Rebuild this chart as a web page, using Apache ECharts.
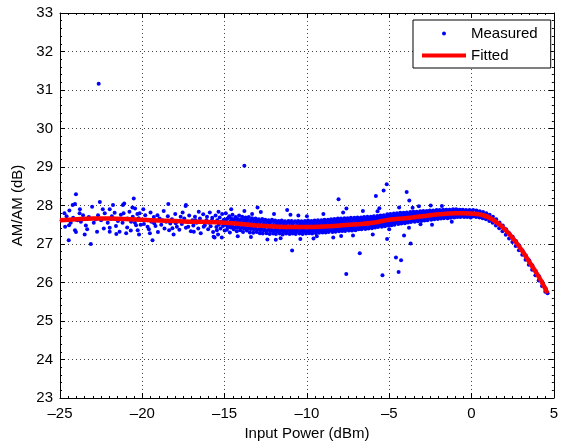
<!DOCTYPE html>
<html>
<head>
<meta charset="utf-8">
<script src="https://cdn.jsdelivr.net/npm/echarts@6/dist/echarts.min.js"></script>
<style>
html,body{margin:0;padding:0;background:#fff;}
#chart{width:561px;height:447px;}
</style>
</head>
<body>
<div id="chart"></div>
<script>
// ---- Data ----
const xTickValues = [-25, -20, -15, -10, -5, 0, 5];
const yTickValues = [23, 24, 25, 26, 27, 28, 29, 30, 31, 32, 33];

// Fitted curve (AM/AM, dB) vs input power (dBm)
const fittedX = [-25, -24, -23, -22, -21, -20, -19, -18, -17, -16, -15, -14, -13, -12, -11, -10, -9, -8, -7, -6, -5, -4, -3, -2, -1, -0.5, 0, 0.35, 0.75, 1.15, 1.5, 1.75, 2.25, 2.75, 3.25, 3.76, 4.26, 4.61];
const fittedY = [27.62, 27.645, 27.66, 27.66, 27.65, 27.63, 27.61, 27.595, 27.58, 27.57, 27.55, 27.52, 27.48, 27.455, 27.44, 27.44, 27.455, 27.48, 27.51, 27.55, 27.63, 27.67, 27.72, 27.77, 27.80, 27.80, 27.79, 27.78, 27.74, 27.67, 27.57, 27.49, 27.28, 27.02, 26.71, 26.37, 26.02, 25.72];

// Measured points: sparse low-power region
const measuredSparse = [
[-24.03,28.29],[-24.73,27.80],[-24.43,27.87],[-24.23,28.01],[-24.09,28.04],[-23.79,27.90],[-23.81,27.80],[-24.45,27.49],[-24.69,27.45],[-24.09,27.36],[-24.03,27.31],[-24.47,27.10],[-23.73,27.58],[-23.13,27.00],[-23.35,27.38],[-23.05,27.97],[-23.43,27.48],[-22.58,28.09],[-22.69,27.75],[-22.83,27.64],[-22.34,27.40],[-22.28,27.80],[-21.98,27.90],[-21.90,27.65],[-21.98,27.42],[-21.98,27.32],[-21.68,27.81],[-21.48,27.60],[-21.38,27.32],[-21.78,28.01],[-21.18,28.01],[-21.10,28.05],[-21.14,27.80],[-20.92,27.43],[-20.78,27.84],[-20.68,27.58],[-20.58,27.71],[-20.52,28.18],[-20.44,27.92],[-20.38,27.49],[-20.28,27.36],[-20.98,27.28],[-21.58,27.26],[-20.16,27.80],[-20.22,27.67],[-19.94,27.90],[-19.82,27.75],[-19.68,27.45],[-19.38,27.10],[-19.54,27.28],[-19.28,27.54],[-19.08,27.75],[-18.78,27.62],[-18.42,28.04],[-18.37,27.36],[-18.17,27.41],[-17.97,27.54],[-17.67,27.71],[-17.37,27.99],[-17.21,27.45],[-16.87,27.32],[-16.77,27.62],[-16.57,27.84],[-16.27,27.45],[-16.07,27.71],[-15.77,27.62],[-15.47,27.36],[-15.37,27.84],[-15.17,27.17],[-15.61,27.17],[-17.35,28.01],[-15.67,27.19],
[-24.9,27.62],[-24.6,27.72],[-24.35,27.55],[-24.2,27.68],[-23.95,27.62],[-23.6,27.75],[-23.5,27.25],[-23.25,27.70],[-22.95,27.55],[-22.75,27.32],[-22.5,27.62],[-22.4,27.90],[-22.1,27.55],[-21.85,27.72],[-21.6,27.47],[-21.3,27.76],[-21.2,27.55],[-20.9,27.66],[-20.7,27.35],[-20.6,27.95],[-20.45,27.55],[-20.3,27.78],[-20.2,27.25],[-20.1,27.50],
[-19.9,27.52],[-19.75,27.63],[-19.6,27.38],[-19.5,27.82],[-19.45,27.58],[-19.3,27.70],[-19.2,27.47],[-19.05,27.31],[-18.95,27.66],[-18.85,27.50],[-18.7,27.86],[-18.65,27.40],[-18.55,27.58],[-18.45,27.72],[-18.3,27.53],[-18.2,27.64],[-18.1,27.25],[-18.0,27.78],[-17.9,27.45],[-17.85,27.60],[-17.75,27.37],[-17.6,27.52],[-17.55,27.82],[-17.45,27.66],[-17.35,27.42],[-17.25,27.57],[-17.15,27.74],[-17.05,27.33],[-16.95,27.62],[-16.9,27.48],[-16.8,27.71],[-16.7,27.55],[-16.6,27.40],[-16.5,27.66],[-16.45,27.28],[-16.35,27.58],[-16.3,27.77],[-16.2,27.49],[-16.1,27.62],[-16.0,27.38],[-15.95,27.55],[-15.9,27.82],[-15.85,27.46],[-15.75,27.68],[-15.7,27.31],[-15.6,27.57],[-15.55,27.74],[-15.5,27.44],[-15.45,27.62],[-15.4,27.25],[-15.35,27.50],[-15.3,27.69],[-15.25,27.40],[-15.2,27.58],[-15.15,27.78],[-15.1,27.47],[-15.05,27.63],[-15.0,27.35]
];

// Measured points: dense band (outer rows)
const measuredBand = [
[-14.93,27.80],[-14.88,27.64],[-14.95,27.50],[-14.86,27.37],
[-14.72,27.72],[-14.66,27.58],[-14.74,27.45],[-14.68,27.30],
[-14.52,27.76],[-14.47,27.62],[-14.55,27.49],[-14.45,27.38],
[-14.33,27.70],[-14.27,27.57],[-14.31,27.44],[-14.26,27.33],
[-14.12,27.74],[-14.07,27.60],[-14.14,27.47],[-14.05,27.36],
[-13.93,27.71],[-13.86,27.57],[-13.91,27.45],[-13.88,27.31],
[-13.72,27.69],[-13.67,27.59],[-13.75,27.43],[-13.65,27.35],
[-13.53,27.70],[-13.46,27.55],[-13.51,27.42],[-13.47,27.30],
[-13.33,27.67],[-13.28,27.54],[-13.35,27.40],[-13.26,27.29],
[-13.12,27.66],[-13.07,27.55],[-13.14,27.41],[-13.05,27.31],
[-12.93,27.64],[-12.87,27.52],[-12.91,27.39],[-12.86,27.28],
[-12.72,27.65],[-12.66,27.51],[-12.74,27.40],[-12.68,27.27],
[-12.53,27.63],[-12.47,27.50],[-12.55,27.37],[-12.45,27.28],
[-12.33,27.62],[-12.27,27.52],[-12.31,27.39],[-12.26,27.26],
[-12.12,27.63],[-12.07,27.49],[-12.14,27.37],[-12.05,27.27],
[-11.93,27.61],[-11.86,27.50],[-11.91,27.38],[-11.88,27.26],
[-11.72,27.60],[-11.67,27.48],[-11.75,27.36],[-11.65,27.27],
[-11.53,27.61],[-11.46,27.49],[-11.51,27.37],[-11.47,27.25],
[-11.33,27.59],[-11.28,27.48],[-11.35,27.36],[-11.26,27.27],
[-11.12,27.60],[-11.07,27.47],[-11.14,27.38],[-11.05,27.26],
[-10.93,27.60],[-10.87,27.49],[-10.91,27.37],[-10.86,27.27],
[-10.72,27.59],[-10.66,27.47],[-10.74,27.36],[-10.68,27.26],
[-10.53,27.60],[-10.47,27.48],[-10.55,27.37],[-10.45,27.27],
[-10.33,27.59],[-10.27,27.49],[-10.31,27.38],[-10.26,27.26],
[-10.12,27.60],[-10.07,27.48],[-10.14,27.36],[-10.05,27.27],
[-9.93,27.61],[-9.87,27.49],[-9.91,27.38],[-9.86,27.28],
[-9.72,27.60],[-9.66,27.50],[-9.74,27.37],[-9.68,27.27],
[-9.53,27.61],[-9.47,27.49],[-9.55,27.39],[-9.45,27.28],
[-9.33,27.62],[-9.28,27.51],[-9.35,27.39],[-9.26,27.29],
[-9.12,27.62],[-9.07,27.50],[-9.14,27.40],[-9.05,27.30],
[-8.93,27.63],[-8.87,27.52],[-8.91,27.40],[-8.86,27.30],
[-8.72,27.63],[-8.66,27.51],[-8.74,27.41],[-8.68,27.31],
[-8.53,27.64],[-8.47,27.53],[-8.55,27.42],[-8.45,27.31],
[-8.33,27.65],[-8.28,27.53],[-8.35,27.42],[-8.26,27.32],
[-8.12,27.66],[-8.07,27.54],[-8.14,27.43],[-8.05,27.33],
[-7.93,27.66],[-7.87,27.55],[-7.91,27.44],[-7.86,27.34],
[-7.72,27.67],[-7.66,27.55],[-7.74,27.44],[-7.68,27.34],
[-7.53,27.67],[-7.47,27.56],[-7.55,27.45],[-7.45,27.35],
[-7.33,27.68],[-7.28,27.56],[-7.35,27.46],[-7.26,27.35],
[-7.12,27.68],[-7.07,27.57],[-7.14,27.47],[-7.05,27.36],
[-6.93,27.69],[-6.87,27.58],[-6.91,27.47],[-6.86,27.38],
[-6.72,27.69],[-6.66,27.58],[-6.74,27.48],[-6.68,27.38],
[-6.53,27.70],[-6.47,27.59],[-6.55,27.49],[-6.45,27.39],
[-6.33,27.71],[-6.28,27.60],[-6.35,27.50],[-6.26,27.40],
[-6.12,27.71],[-6.07,27.61],[-6.14,27.51],[-6.05,27.41],
[-5.93,27.72],[-5.87,27.62],[-5.91,27.52],[-5.86,27.43],
[-5.72,27.73],[-5.66,27.63],[-5.74,27.53],[-5.68,27.44],
[-5.53,27.74],[-5.47,27.64],[-5.55,27.54],[-5.45,27.45],
[-5.33,27.75],[-5.28,27.65],[-5.35,27.55],[-5.26,27.46],
[-5.12,27.77],[-5.07,27.67],[-5.14,27.57],[-5.05,27.48],
[-4.93,27.78],[-4.87,27.68],[-4.91,27.58],[-4.86,27.49],
[-4.72,27.79],[-4.66,27.69],[-4.74,27.59],[-4.68,27.50],
[-4.53,27.80],[-4.47,27.70],[-4.55,27.61],[-4.45,27.52],
[-4.33,27.81],[-4.28,27.71],[-4.35,27.62],[-4.26,27.53],
[-4.12,27.81],[-4.07,27.72],[-4.14,27.63],[-4.05,27.54],
[-3.93,27.82],[-3.87,27.73],[-3.91,27.64],[-3.86,27.56],
[-3.72,27.83],[-3.66,27.74],[-3.74,27.65],[-3.68,27.57],
[-3.53,27.84],[-3.47,27.75],[-3.55,27.66],[-3.45,27.58],
[-3.33,27.84],[-3.28,27.76],[-3.35,27.67],[-3.26,27.59],
[-3.12,27.85],[-3.07,27.77],[-3.14,27.68],[-3.05,27.60],
[-2.93,27.86],[-2.87,27.78],[-2.91,27.69],[-2.86,27.61],
[-2.72,27.86],[-2.66,27.78],[-2.74,27.70],[-2.68,27.62],
[-2.53,27.87],[-2.47,27.79],[-2.55,27.71],[-2.45,27.63],
[-2.33,27.87],[-2.28,27.80],[-2.35,27.72],[-2.26,27.64],
[-2.12,27.88],[-2.07,27.80],[-2.14,27.72],[-2.05,27.65],
[-1.93,27.88],[-1.87,27.81],[-1.91,27.73],[-1.86,27.66],
[-1.72,27.89],[-1.66,27.81],[-1.74,27.74],[-1.68,27.67],
[-1.53,27.89],[-1.47,27.82],[-1.55,27.74],[-1.45,27.67],
[-1.33,27.89],[-1.28,27.82],[-1.35,27.75],[-1.26,27.68],
[-1.12,27.90],[-1.07,27.83],[-1.14,27.75],[-1.05,27.69],
[-0.93,27.90],[-0.87,27.83],[-0.91,27.76],[-0.86,27.70],
[-0.72,27.89],[-0.66,27.83],[-0.74,27.76],[-0.68,27.70],
[-0.53,27.89],[-0.47,27.82],[-0.55,27.76],[-0.45,27.70],
[-0.33,27.88],[-0.28,27.82],[-0.35,27.75],[-0.26,27.70],
[-0.12,27.88],[-0.07,27.81],[-0.14,27.74],[-0.05,27.69],
[-14.6,27.90],[-14.2,27.20],[-13.8,27.86],[-13.4,27.18],[-12.8,27.83],[-12.4,27.12],[-12.0,27.78],[-11.6,27.15],[-11.0,27.76],[-10.4,27.13],[-10.0,27.72],[-9.6,27.14],[-9.0,27.78],[-8.4,27.17],[-7.8,27.82],[-7.2,27.22],[-6.6,27.86],[-6.0,27.25],[-5.6,27.93],[-5.0,27.38],[-4.4,27.95],[-3.8,27.42],[-3.2,27.98],[-2.4,27.50],[-1.8,27.99],[-1.2,27.58],[-13.0,27.95],[-11.2,27.88],[-9.4,27.20],[-7.6,27.92],[-10.52,27.74],[-13.33,27.78]
];

// Measured points: dense band (inner rows between the outer ones)
const measuredBandInner = [
[-14.8,27.67],[-14.82,27.44],[-14.6,27.66],[-14.62,27.43],[-14.4,27.65],[-14.42,27.42],[-14.2,27.65],[-14.22,27.42],[-14.0,27.64],[-14.02,27.41],
[-13.8,27.63],[-13.82,27.40],[-13.6,27.63],[-13.62,27.40],[-13.4,27.62],[-13.42,27.39],[-13.2,27.61],[-13.22,27.38],[-13.0,27.60],[-13.02,27.37],
[-12.8,27.59],[-12.82,27.36],[-12.6,27.58],[-12.62,27.35],[-12.4,27.58],[-12.42,27.35],[-12.2,27.57],[-12.22,27.34],[-12.0,27.57],[-12.02,27.34],
[-11.8,27.56],[-11.82,27.33],[-11.6,27.56],[-11.62,27.33],[-11.4,27.55],[-11.42,27.32],[-11.2,27.55],[-11.22,27.32],[-11.0,27.55],[-11.02,27.32],
[-10.8,27.55],[-10.82,27.32],[-10.6,27.55],[-10.62,27.32],[-10.4,27.55],[-10.42,27.32],[-10.2,27.55],[-10.22,27.32],[-10.0,27.55],[-10.02,27.32],
[-9.8,27.56],[-9.82,27.33],[-9.6,27.56],[-9.62,27.33],[-9.4,27.56],[-9.42,27.33],[-9.2,27.57],[-9.22,27.34],[-9.0,27.57],[-9.02,27.34],
[-8.8,27.58],[-8.82,27.35],[-8.6,27.58],[-8.62,27.35],[-8.4,27.59],[-8.42,27.36],[-8.2,27.60],[-8.22,27.37],[-8.0,27.60],[-8.02,27.37],
[-7.8,27.61],[-7.82,27.38],[-7.6,27.61],[-7.62,27.38],[-7.4,27.62],[-7.42,27.39],[-7.2,27.63],[-7.22,27.40],[-7.0,27.63],[-7.02,27.40],
[-6.8,27.64],[-6.82,27.41],[-6.6,27.65],[-6.62,27.42],[-6.4,27.65],[-6.42,27.42],[-6.2,27.66],[-6.22,27.43],[-6.0,27.66],[-6.02,27.46],
[-5.8,27.67],[-5.82,27.47],[-5.6,27.68],[-5.62,27.48],[-5.4,27.69],[-5.42,27.49],[-5.2,27.70],[-5.22,27.50],[-5.0,27.72],[-5.02,27.52],
[-4.8,27.73],[-4.82,27.53],[-4.6,27.74],[-4.62,27.55],[-4.4,27.75],[-4.42,27.56],[-4.2,27.76],[-4.22,27.57],[-4.0,27.78],[-4.02,27.59],
[-3.8,27.78],[-3.82,27.60],[-3.6,27.79],[-3.62,27.61],[-3.4,27.80],[-3.42,27.62],[-3.2,27.81],[-3.22,27.63],[-3.0,27.82],[-3.02,27.64],
[-2.8,27.83],[-2.82,27.65],[-2.6,27.84],[-2.62,27.66],[-2.4,27.84],[-2.42,27.67],[-2.2,27.85],[-2.22,27.68],[-2.0,27.85],[-2.02,27.69],
[-1.8,27.86],[-1.82,27.70],[-1.6,27.86],[-1.62,27.70],[-1.4,27.87],[-1.42,27.71],[-1.2,27.87],[-1.22,27.71],[-1.0,27.87],[-1.02,27.72],
[-0.8,27.87],[-0.82,27.72],[-0.6,27.87],[-0.62,27.72],[-0.4,27.86],[-0.42,27.72],[-0.2,27.86],[-0.22,27.72],[0.0,27.86],[-0.02,27.71]
];

// Measured points: compression region (above 0 dBm)
const measuredTail = [
[0.1,27.88],[0.12,27.72],[0.3,27.87],[0.28,27.70],[0.5,27.85],[0.48,27.69],[0.7,27.83],[0.68,27.67],[0.9,27.80],[0.88,27.64],[1.1,27.76],[1.08,27.60],[1.3,27.71],[1.28,27.55],[1.5,27.64],[1.48,27.48],[1.7,27.56],[1.68,27.41],[1.9,27.48],[1.88,27.33],[2.1,27.38],[2.08,27.24],[2.3,27.28],[2.28,27.14],[2.5,27.19],[2.48,27.05],[2.7,27.08],[2.68,26.95],[2.9,26.96],[2.88,26.84],[3.1,26.83],[3.08,26.72],[3.3,26.70],[3.28,26.59],[3.5,26.58],[3.48,26.46],[3.7,26.44],[3.68,26.33],[3.9,26.30],[3.88,26.19],[4.1,26.16],[4.08,26.05],[4.3,26.01],[4.28,25.91],[4.5,25.85],[4.48,25.76],[4.62,25.72]
];

// Measured points: isolated outliers
const measuredOutliers = [
[-22.65,31.16],[-13.8,29.03],[-8.08,28.16],[-5.81,28.25],[-5.34,28.39],[-5.15,28.55],[-3.94,28.35],[-3.78,28.13],[-3.58,27.94],[-5.71,27.85],[-2.48,28.0],[-10.9,26.83],[-11.89,27.11],[-7.92,27.21],[-6.79,26.76],[-7.61,26.22],[-5.13,27.13],[-4.10,27.22],[-3.70,27.01],[-4.59,26.65],[-4.28,26.58],[-5.41,26.19],[-4.43,26.27],[-3.10,27.51]
];

const measured = measuredSparse.concat(measuredBand, measuredBandInner, measuredTail, measuredOutliers);
const fitted = fittedX.map((x, i) => [x, fittedY[i]]);

const FONT = 'Liberation Sans, Arial, Helvetica, sans-serif';
const fmtX = v => (v < 0 ? '\u2013' + Math.abs(v) : String(v));

const chart = echarts.init(document.getElementById('chart'), null, {renderer: 'canvas'});

const frameAxisCommon = {
  axisLine: {show: true, onZero: false, lineStyle: {color: '#000', width: 1}},
  axisTick: {show: true, inside: true, length: 5, lineStyle: {color: '#000'}},
  axisLabel: {show: false},
  splitLine: {show: false}
};

chart.setOption({
  animation: false,
  backgroundColor: '#fff',
  textStyle: {fontFamily: FONT},
  grid: {left: 60, right: 4, top: 13, bottom: 49, containLabel: false},
  legend: {
    orient: 'vertical',
    left: 413,
    top: 20,
    itemWidth: 44,
    itemHeight: 4,
    itemGap: 7,
    padding: [6, 13, 5, 9],
    backgroundColor: '#fff',
    borderColor: '#000',
    borderWidth: 1,
    borderRadius: 0,
    textStyle: {fontSize: 15, color: '#000', fontFamily: FONT},
    data: [
      {name: 'Measured', icon: 'circle'},
      {name: 'Fitted', icon: 'rect'}
    ]
  },
  xAxis: [{
    type: 'value',
    min: xTickValues[0],
    max: xTickValues[xTickValues.length - 1],
    interval: 5,
    name: 'Input Power (dBm)',
    nameLocation: 'middle',
    nameGap: 27,
    nameTextStyle: {fontSize: 15, color: '#000', fontFamily: FONT},
    axisLine: {show: true, onZero: false, lineStyle: {color: '#000', width: 1}},
    axisTick: {show: true, inside: true, length: 5, lineStyle: {color: '#000'}},
    minorTick: {show: true, splitNumber: 10, length: 2, lineStyle: {color: '#000'}},
    axisLabel: {fontSize: 15, color: '#000', margin: 8, formatter: fmtX, fontFamily: FONT},
    splitLine: {show: true, lineStyle: {color: '#444', type: [1, 3], width: 1}}
  }, Object.assign({
    type: 'value', position: 'top',
    min: xTickValues[0], max: xTickValues[xTickValues.length - 1], interval: 5,
    minorTick: {show: true, splitNumber: 10, length: 2, lineStyle: {color: '#000'}}
  }, frameAxisCommon)],
  yAxis: [{
    type: 'value',
    min: yTickValues[0],
    max: yTickValues[yTickValues.length - 1],
    interval: 1,
    name: 'AM/AM (dB)',
    nameLocation: 'middle',
    nameGap: 31,
    nameTextStyle: {fontSize: 15, color: '#000', fontFamily: FONT},
    axisLine: {show: true, onZero: false, lineStyle: {color: '#000', width: 1}},
    axisTick: {show: true, inside: true, length: 5, lineStyle: {color: '#000'}},
    minorTick: {show: true, splitNumber: 5, length: 2, lineStyle: {color: '#000'}},
    axisLabel: {fontSize: 15, color: '#000', margin: 7, fontFamily: FONT},
    splitLine: {show: true, lineStyle: {color: '#444', type: [1, 3], width: 1}}
  }, Object.assign({
    type: 'value', position: 'right',
    min: yTickValues[0], max: yTickValues[yTickValues.length - 1], interval: 1,
    minorTick: {show: true, splitNumber: 5, length: 2, lineStyle: {color: '#000'}}
  }, frameAxisCommon)],
  series: [
    {
      name: 'Measured',
      type: 'scatter',
      xAxisIndex: 0, yAxisIndex: 0,
      symbol: 'circle',
      symbolSize: 4,
      itemStyle: {color: '#0000ff', opacity: 1},
      data: measured,
      clip: true,
      z: 2
    },
    {
      name: 'Fitted',
      type: 'line',
      xAxisIndex: 0, yAxisIndex: 0,
      smooth: 0.4,
      showSymbol: false,
      symbol: 'none',
      lineStyle: {color: '#ff0000', width: 4.5},
      itemStyle: {color: '#ff0000'},
      data: fitted,
      z: 3
    }
  ]
});
</script>
</body>
</html>
